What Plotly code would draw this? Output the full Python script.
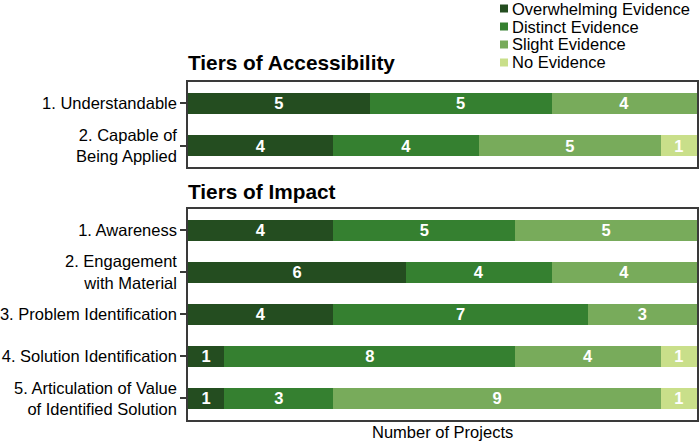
import plotly.graph_objects as go

# --- data ---
levels = ["Overwhelming Evidence", "Distinct Evidence", "Slight Evidence", "No Evidence"]
colors = ["#244d20", "#358030", "#78ab5b", "#c9df8a"]

access_labels = ["1. Understandable", "2. Capable of<br>Being Applied"]
access_overwhelming = [5, 4]
access_distinct = [5, 4]
access_slight = [4, 5]
access_none = [0, 1]

impact_labels = [
    "1. Awareness",
    "2. Engagement<br>with Material",
    "3. Problem Identification",
    "4. Solution Identification",
    "5. Articulation of Value<br>of Identified Solution",
]
impact_overwhelming = [4, 6, 4, 1, 1]
impact_distinct = [5, 4, 7, 8, 3]
impact_slight = [5, 4, 3, 4, 9]
impact_none = [0, 0, 0, 1, 1]

FONT = "Liberation Sans, Arial, sans-serif"
W, H = 699, 442
LINE = "#3a3a3a"
TXT = 16.5

fig = go.Figure()

panels = [
    ("y", access_labels, [access_overwhelming, access_distinct, access_slight, access_none]),
    ("y2", impact_labels, [impact_overwhelming, impact_distinct, impact_slight, impact_none]),
]

for yref, labels, series in panels:
    xref = "x" if yref == "y" else "x2"
    for name, color, vals in zip(levels, colors, series):
        fig.add_trace(
            go.Bar(
                orientation="h",
                y=labels,
                x=[v if v else None for v in vals],
                name=name,
                showlegend=False,
                marker=dict(color=color, line=dict(width=0)),
                text=[str(v) if v else "" for v in vals],
                textposition="inside",
                insidetextanchor="middle",
                constraintext="none",
                textangle=0,
                textfont=dict(family=FONT, size=16.5, color="white", weight="bold"),
                xaxis=xref,
                yaxis=yref,
                hoverinfo="skip",
            )
        )

x_dom = [188 / W, 697 / W]
axis_common = dict(
    showline=True,
    mirror=True,
    linecolor=LINE,
    linewidth=1.5,
    showgrid=False,
    zeroline=False,
)
yaxis_common = dict(
    autorange="reversed",
    ticks="outside",
    ticklen=6,
    tickwidth=1.5,
    tickcolor=LINE,
    tickfont=dict(size=TXT),
    **axis_common,
)

# legend drawn by hand so the rows sit as tightly as in the original
shapes = []
annotations = []
for i, (name, color) in enumerate(zip(levels, colors)):
    yc = 8.5 + 18 * i
    shapes.append(dict(type="rect", xref="paper", yref="paper",
                       x0=500 / W, x1=508 / W, y0=1 - (yc + 4) / H, y1=1 - (yc - 4) / H,
                       fillcolor=color, line=dict(width=0)))
    annotations.append(dict(text=name, x=510 / W, y=1 - yc / H, xref="paper", yref="paper",
                            xanchor="left", yanchor="middle", showarrow=False, font=dict(size=TXT)))

annotations += [
    dict(text="<b>Tiers of Accessibility</b>", x=186 / W, y=1 - 63 / H, xref="paper", yref="paper",
         xanchor="left", yanchor="middle", showarrow=False, font=dict(size=20.8)),
    dict(text="<b>Tiers of Impact</b>", x=186 / W, y=1 - 191 / H, xref="paper", yref="paper",
         xanchor="left", yanchor="middle", showarrow=False, font=dict(size=20.8)),
    dict(text="Number of Projects", x=(188 + 697) / 2 / W, y=1 - 432 / H, xref="paper", yref="paper",
         xanchor="center", yanchor="middle", showarrow=False, font=dict(size=TXT)),
]

fig.update_layout(
    width=W,
    height=H,
    margin=dict(l=0, r=0, t=0, b=0),
    paper_bgcolor="white",
    plot_bgcolor="white",
    barmode="stack",
    bargap=0.5,
    showlegend=False,
    font=dict(family=FONT, size=TXT, color="black"),
    xaxis=dict(domain=x_dom, range=[0, 14], anchor="y", showticklabels=False, ticks="", **axis_common),
    xaxis2=dict(domain=x_dom, range=[0, 14], anchor="y2", showticklabels=False, ticks="", **axis_common),
    yaxis=dict(domain=[1 - 167 / H, 1 - 82 / H], anchor="x", **yaxis_common),
    yaxis2=dict(domain=[1 - 419.5 / H, 1 - 209 / H], anchor="x2", **yaxis_common),
    shapes=shapes,
    annotations=annotations,
)

# drop the page's default body margin so the 699x442 figure fills the window
fig.write_html(
    "out.html",
    config={"displayModeBar": False},
    post_script="document.body.style.margin = '0';",
)
